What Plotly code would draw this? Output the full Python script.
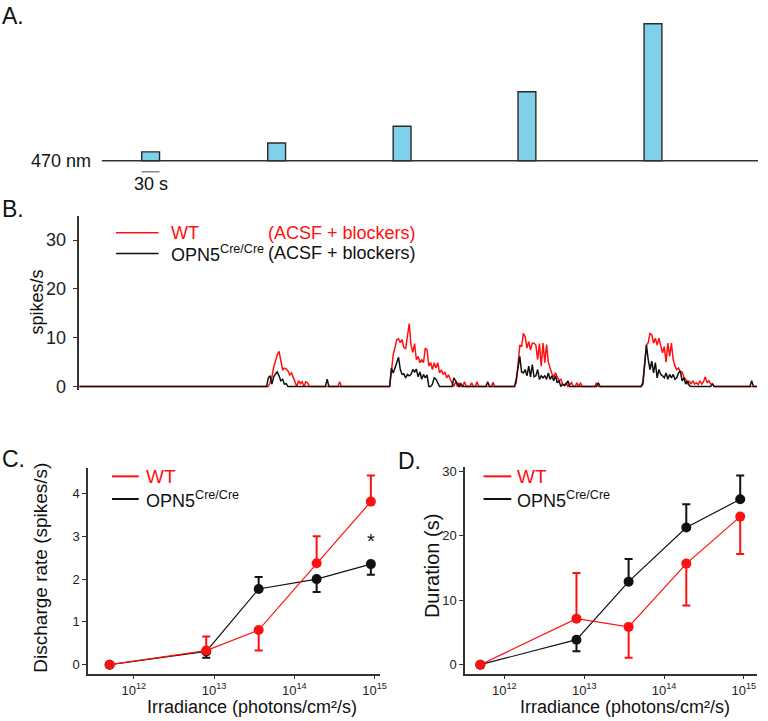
import numpy as np
import plotly.graph_objects as go

W, H = 768, 721
FONT = "Liberation Sans, Arial, sans-serif"
RED = "#ff1010"
BLK = "#111111"
AX = "#333333"

# ---------------- Panel A: stimulus protocol ----------------
pulse_start_s = [105, 317, 528, 738, 950]
pulse_dur_s = 30
pulse_intensity = [9, 18, 35, 70, 139]          # relative intensity (a.u.)
stim_span_s = [38, 1142]
time_range_s = [0, 1141.7]

# ---------------- Panel B: firing-rate traces ----------------
bin_s = 3
resp_onset_s = [318, 524, 736, 949]
wt_resp = [
    [0, 0.8, 2.0, 4.0, 5.5, 6.5, 7.2, 5.0, 3.5, 3.8, 3.6, 3.2, 2.4, 2.8, 1.8, 1.2,
     0, 1.2, 0.6, 1.0, 0, 1.0, 0.8, 0],
    [3.0, 6.5, 8.0, 9.6, 9.8, 9.0, 9.6, 8.0, 7.8, 11.0, 12.9, 8.5, 7.0, 8.8, 5.5, 6.2,
     4.9, 5.5, 4.9, 7.9, 7.5, 4.2, 4.9, 3.5, 4.9, 3.8, 4.9, 2.8, 3.4, 2.5, 3.0, 1.8,
     2.4, 1.5, 0.8, 0, 1.0, 0, 0.8, 0, 0, 1.0, 0, 0, 0, 0.8, 0, 0, 1.0, 0],
    [0.8, 4.5, 8.5, 8.2, 10.9, 10.2, 7.9, 9.2, 7.5, 8.9, 8.9, 8.5, 5.5, 8.8, 4.2, 8.9,
     4.9, 8.6, 5.0, 3.8, 2.6, 2.0, 2.8, 2.0, 1.2, 1.5, 0.5, 0.2, 0.8, 0, 0.5, 0.8,
     0, 0, 0.8, 0, 0.8, 0, 0, 0, 0, 0, 0, 0, 0, 0.8, 0],
    [1.0, 4.2, 8.5, 9.0, 10.9, 10.6, 8.9, 9.9, 8.5, 9.9, 8.2, 6.9, 8.2, 5.0, 8.9, 6.2,
     8.9, 5.5, 4.2, 3.5, 3.8, 3.0, 3.0, 2.0, 1.5, 0.5, 1.2, 0.5, 1.2, 0.5, 0.8, 0.4,
     1.2, 0.5, 1.0, 2.0, 0.8, 1.2, 0.5, 0.6, 0, 0],
]
ko_resp = [
    [1.8, 2.2, 0.5, 2.0, 2.6, 3.0, 2.2, 1.2, 1.5, 0.5, 0.6, 0],
    [3.8, 2.8, 3.8, 4.9, 6.0, 3.5, 2.5, 2.6, 1.8, 2.5, 2.2, 2.5, 3.5, 3.0, 3.6, 2.0,
     3.0, 1.5, 2.5, 1.8, 2.4, 0, 0, 0.5, 1.8, 1.5, 0.8, 0, 0, 0, 0, 0, 0, 0, 0, 1.8,
     1.2, 0.8, 0, 0.6, 0],
    [1.5, 3.5, 6.2, 3.0, 2.8, 3.5, 2.2, 4.2, 2.0, 4.5, 2.0, 2.2, 3.5, 1.5, 2.2, 1.8,
     2.2, 1.5, 2.8, 1.5, 2.2, 1.2, 2.2, 0.8, 1.2, 0, 0.5, 0.2, 0.5, 1.2, 0, 0, 0, 0,
     0, 0, 0, 0, 0, 0, 0, 0, 0, 0, 0, 0, 0.8, 0],
    [0.5, 4.2, 8.5, 5.5, 3.5, 5.2, 2.8, 4.9, 1.8, 3.5, 2.5, 2.2, 1.8, 2.8, 1.5, 2.5,
     1.8, 2.5, 1.5, 1.8, 2.8, 3.2, 1.2, 1.8, 0.5, 1.2, 0.2, 0],
]
wt_blip_t = [437, 697]
wt_blip_v = [1.0, 0.9]
ko_blip_t = [417, 688, 1064, 1132]
ko_blip_v = [1.5, 1.0, 0.5, 1.2]

# ---------------- Panels C & D ----------------
irradiance = [5e11, 8e12, 3.6e13, 1.9e14, 9e14]
wt_rate = [0, 0.33, 0.81, 2.37, 3.81]
wt_rate_up = [0, 0.33, 0, 0.63, 0.61]
wt_rate_dn = [0, 0, 0.48, 0, 0]
ko_rate = [0, 0.31, 1.77, 2.0, 2.35]
ko_rate_up = [0, 0, 0.28, 0, 0]
ko_rate_dn = [0, 0.15, 0, 0.3, 0.25]
wt_dur = [0, 7.15, 5.87, 15.7, 23.0]
wt_dur_up = [0, 7.1, 0, 0, 0]
wt_dur_dn = [0, 0, 4.8, 6.5, 5.8]
ko_dur = [0, 3.88, 12.9, 21.3, 25.7]
ko_dur_up = [0, 0, 3.5, 3.6, 3.7]
ko_dur_dn = [0, 1.8, 0, 0, 0]


def px(x):
    return x / W


def py(y):
    return 1 - y / H


def build_trace(segments, blip_t, blip_v):
    n = int(time_range_s[1] // bin_s) + 1
    t = np.arange(n) * bin_s
    v = np.zeros(n)
    for onset, seg in zip(resp_onset_s, segments):
        i0 = int(round(onset / bin_s))
        v[i0:i0 + len(seg)] = seg
    for bt, bv in zip(blip_t, blip_v):
        v[int(round(bt / bin_s))] = bv
    return t, v


fig = go.Figure()

# Panel A
fig.add_trace(go.Scatter(x=stim_span_s, y=[0, 0], mode="lines",
                         line=dict(color=AX, width=1.6), xaxis="x", yaxis="y",
                         showlegend=False, hoverinfo="skip"))
fig.add_trace(go.Bar(x=[s + pulse_dur_s / 2 for s in pulse_start_s], y=pulse_intensity,
                     width=[pulse_dur_s] * len(pulse_start_s),
                     marker=dict(color="#7fd0e8", line=dict(color="#2a2a2a", width=1.4)),
                     xaxis="x", yaxis="y", showlegend=False))

# Panel B
tw, vw = build_trace(wt_resp, wt_blip_t, wt_blip_v)
tk, vk = build_trace(ko_resp, ko_blip_t, ko_blip_v)
fig.add_trace(go.Scatter(x=tw, y=vw, mode="lines", line=dict(color=RED, width=1.5),
                         xaxis="x2", yaxis="y2", showlegend=False))
fig.add_trace(go.Scatter(x=tk, y=vk, mode="lines", line=dict(color=BLK, width=1.5),
                         xaxis="x2", yaxis="y2", showlegend=False))


def series(x, y, up, dn, color, xa, ya):
    return go.Scatter(x=x, y=y, mode="lines+markers",
                      line=dict(color=color, width=1.2),
                      marker=dict(color=color, size=10),
                      error_y=dict(type="data", symmetric=False, array=up, arrayminus=dn,
                                   color=color, thickness=2, width=4),
                      xaxis=xa, yaxis=ya, showlegend=False, cliponaxis=False)


fig.add_trace(series(irradiance, ko_rate, ko_rate_up, ko_rate_dn, BLK, "x3", "y3"))
fig.add_trace(series(irradiance, wt_rate, wt_rate_up, wt_rate_dn, RED, "x3", "y3"))
fig.add_trace(series(irradiance, ko_dur, ko_dur_up, ko_dur_dn, BLK, "x4", "y4"))
fig.add_trace(series(irradiance, wt_dur, wt_dur_up, wt_dur_dn, RED, "x4", "y4"))

logticks = [1e12, 1e13, 1e14, 1e15]
logtext = ["10<sup>12</sup>", "10<sup>13</sup>", "10<sup>14</sup>", "10<sup>15</sup>"]
small = dict(family=FONT, size=13, color="#222")
axstyle = dict(showline=True, linecolor=AX, linewidth=1.5, ticks="outside", ticklen=4,
               tickcolor=AX, tickwidth=1.3, showgrid=False, zeroline=False, tickfont=small)

fig.update_layout(
    width=W, height=H, margin=dict(l=0, r=0, t=0, b=0),
    paper_bgcolor="white", plot_bgcolor="white",
    xaxis=dict(domain=[px(80), px(765)], range=time_range_s, visible=False, anchor="y"),
    yaxis=dict(domain=[py(165), py(15)], range=[-5, 145], visible=False, anchor="x"),
    xaxis2=dict(domain=[px(80), px(765)], range=time_range_s, visible=False, anchor="y2"),
    yaxis2=dict(domain=[py(392), py(216)], range=[-0.606, 34.95], anchor="x2",
                showline=True, linecolor=AX, linewidth=1.5, ticks="outside", ticklen=5,
                tickcolor=AX, tickvals=[0, 10, 20, 30], showgrid=False, zeroline=False,
                ticklabelstandoff=3,
                tickfont=dict(family=FONT, size=18, color="#222")),
    xaxis3=dict(domain=[px(89), px(383)], type="log", range=[11.432, 15.062], anchor="y3",
                tickvals=logticks, ticktext=logtext, **axstyle),
    yaxis3=dict(domain=[py(680), py(472)], range=[-0.207, 4.585], anchor="x3",
                tickvals=[0, 1, 2, 3, 4], **axstyle),
    xaxis4=dict(domain=[px(469.3), px(764)], type="log", range=[11.507, 15.165], anchor="y4",
                tickvals=logticks, ticktext=logtext, **axstyle),
    yaxis4=dict(domain=[py(680), py(471)], range=[-1.38, 30.63], anchor="x4",
                tickvals=[0, 10, 20, 30], **axstyle),
)

ann = []


def text(x, y, s, size, color="#111", xanchor="left", angle=0):
    ann.append(dict(x=px(x), y=py(y), xref="paper", yref="paper", text=s, showarrow=False,
                    xanchor=xanchor, yanchor="middle", textangle=angle,
                    font=dict(family=FONT, size=size, color=color)))


# panel labels
text(0, 13, "A.", 23)
text(0, 209, "B.", 23)
text(0, 462, "C.", 23)
text(400, 464, "D.", 23)
# panel A texts
text(94, 160, "470 nm", 18, xanchor="right")
ann.append(dict(x=pulse_start_s[0] + pulse_dur_s / 2, y=py(184), xref="x", yref="paper",
                text="30 s", showarrow=False, xanchor="center", yanchor="middle",
                font=dict(family=FONT, size=18, color="#111")))
# panel B
text(37, 303, "spikes/s", 18, xanchor="center", angle=-90)
text(171, 233, "WT", 18, RED)
text(268, 233, "(ACSF + blockers)", 18, RED)
text(171, 254, "OPN5<sup>Cre/Cre</sup>", 18, BLK)
text(268, 254, "(ACSF + blockers)", 18, BLK)
# panel C
text(145, 480, "WT", 19, RED)
text(145, 503, "OPN5<sup>Cre/Cre</sup>", 18, BLK)
text(374, 546, "*", 20, BLK, xanchor="center")
text(40, 573, "Discharge rate (spikes/s)", 19, xanchor="center", angle=-90)
text(254, 714, "Irradiance (photons/cm²/s)", 18, xanchor="center")
# panel D
text(520, 480, "WT", 19, RED)
text(520, 503, "OPN5<sup>Cre/Cre</sup>", 18, BLK)
text(436, 571, "Duration (s)", 20, xanchor="center", angle=-90)
text(631, 714, "Irradiance (photons/cm²/s)", 18, xanchor="center")
fig.update_layout(annotations=ann)

shapes = []


def hline(x0, x1, y, color, width):
    shapes.append(dict(type="line", xref="paper", yref="paper", x0=px(x0), x1=px(x1),
                       y0=py(y), y1=py(y), line=dict(color=color, width=width)))


hline(117, 160, 233, RED, 1.5)
hline(117, 160, 254, BLK, 1.5)
hline(113, 140, 480, RED, 2)
hline(113, 140, 503, BLK, 2)
hline(488, 516, 480, RED, 2)
hline(488, 516, 503, BLK, 2)
# 30 s scale bar
shapes.append(dict(type="line", xref="x", yref="paper", x0=pulse_start_s[0],
                   x1=pulse_start_s[0] + pulse_dur_s, y0=py(171), y1=py(171),
                   line=dict(color="#888", width=1.5)))
fig.update_layout(shapes=shapes)

fig.write_html("out.html")
